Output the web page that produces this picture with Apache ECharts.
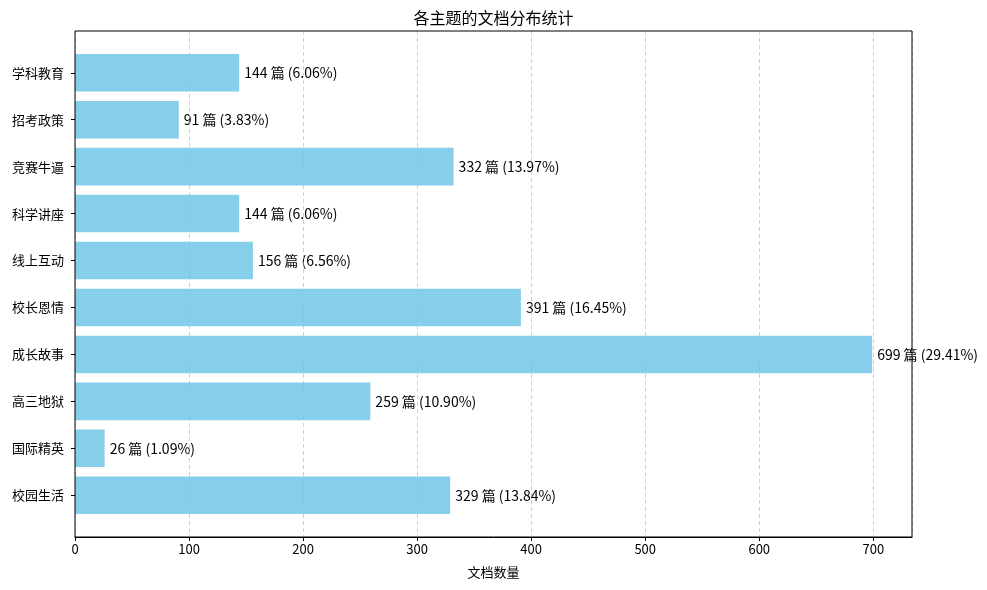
<!DOCTYPE html>
<html>
<head>
<meta charset="utf-8">
<script src="https://cdn.jsdelivr.net/npm/echarts@6/dist/echarts.min.js"></script>
<style>html,body{margin:0;padding:0;background:#fff}#c{width:987px;height:590px}</style>
</head>
<body>
<div id="c"></div>
<script>
// bottom to top
const categories = ['校园生活','国际精英','高三地狱','成长故事','校长恩情','线上互动','科学讲座','竞赛牛逼','招考政策','学科教育'];
const counts = [329, 26, 259, 699, 391, 156, 144, 332, 91, 144];
const percents = ['13.84','1.09','10.90','29.41','16.45','6.56','6.06','13.97','3.83','6.06'];
const xTicks = [0,100,200,300,400,500,600,700];

const FONT = 'Noto Sans CJK SC';
const xMax = 733.95;
const chart = echarts.init(document.getElementById('c'), null, {renderer:'canvas'});
chart.setOption({
  animation: false,
  textStyle: {fontFamily: FONT},
  title: {
    text: '各主题的文档分布统计', left: 'center', top: 5,
    textStyle: {fontFamily: FONT, fontSize: 16, fontWeight: 'normal', color: '#000'}
  },
  grid: [
    {left: 75, top: 31, width: 837, height: 506, show: true, borderColor: '#000', borderWidth: 1, backgroundColor: 'transparent', z: 6},
    {left: 75, top: 49.3, width: 837, height: 469.4, show: false}
  ],
  xAxis: [
    {
      gridIndex: 0, type: 'value', min: 0, max: xMax, interval: 100, z: 5,
      name: '文档数量', nameLocation: 'middle', nameGap: 29,
      nameTextStyle: {fontFamily: FONT, fontSize: 13, color: '#000'},
      axisLine: {show: true, lineStyle: {color: '#000'}},
      axisTick: {show: true, length: 4, lineStyle: {color: '#000'}},
      axisLabel: {fontFamily: FONT, fontSize: 13, color: '#000', margin: 6, showMaxLabel: false,
        formatter: v => xTicks.includes(v) ? String(v) : ''},
      splitLine: {show: true, lineStyle: {color: 'rgba(176,176,176,0.6)', type: [4,3], width: 1}}
    },
    {gridIndex: 1, type: 'value', min: 0, max: xMax, show: false, splitLine: {show: false}}
  ],
  yAxis: [
    {gridIndex: 0, type: 'value', show: false, splitLine: {show: false}},
    {
      gridIndex: 1, type: 'category', data: categories,
      axisLine: {show: false},
      axisTick: {show: true, alignWithLabel: true, length: 4, lineStyle: {color: '#000'}},
      axisLabel: {fontFamily: FONT, fontSize: 13, color: '#000', margin: 11}
    }
  ],
  series: [{
    type: 'bar', xAxisIndex: 1, yAxisIndex: 1,
    data: counts, barWidth: '80%',
    itemStyle: {color: '#87CEEB'},
    label: {
      show: true, position: 'right', distance: 5,
      fontFamily: FONT, fontSize: 14, color: '#000',
      formatter: p => `${counts[p.dataIndex]} 篇 (${percents[p.dataIndex]}%)`
    }
  }]
});
</script>
</body>
</html>
